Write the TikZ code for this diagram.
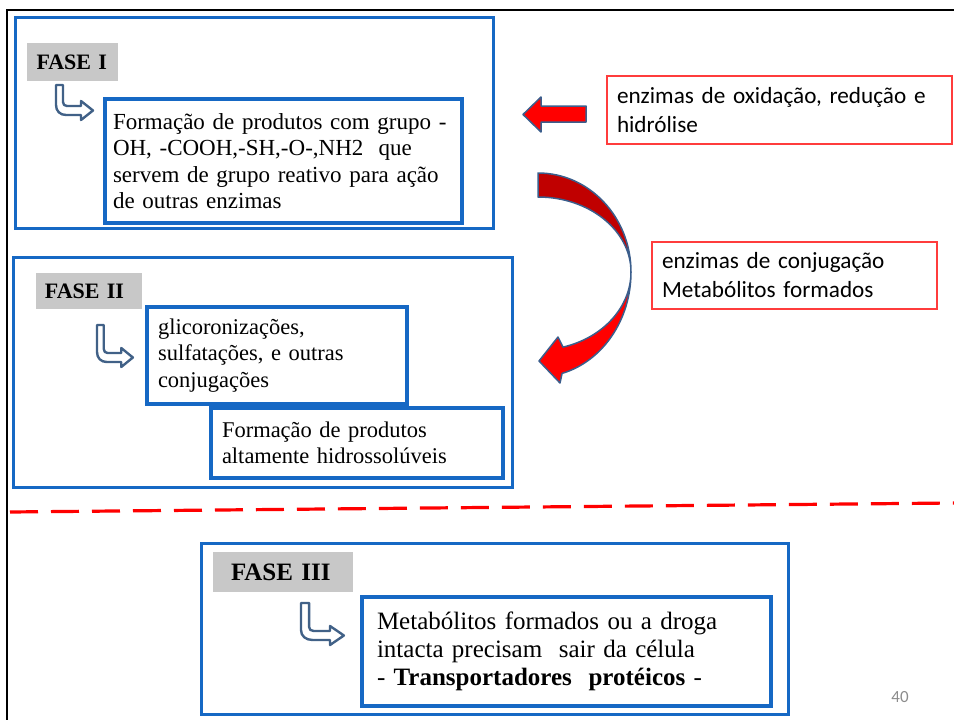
\documentclass[tikz,border=0pt]{standalone}
\usepackage{fontspec}
\setmainfont{Liberation Serif}
\newfontfamily\calib{Carlito}

\definecolor{boxblue}{RGB}{22,104,196}
\definecolor{labgray}{RGB}{200,200,200}
\definecolor{notered}{RGB}{255,60,60}
\definecolor{darkred}{RGB}{192,0,0}
\definecolor{brightred}{RGB}{255,0,0}
\definecolor{edgeblue}{RGB}{59,94,140}
\definecolor{hookblue}{RGB}{65,97,135}
\definecolor{pagegray}{RGB}{140,140,140}

\tikzset{
  pics/hookarrow/.style={code={
    \draw[hookblue, line width=2.4pt, fill=white, line join=round]
      (0,0) -- (0,{18+#1}) .. controls (0,{24+#1}) and (4,{28+#1}) .. (10,{28+#1})
      -- (25,{28+#1}) -- (25,{33+#1}) -- (37,{23.5+#1}) -- (25,{14+#1})
      -- (25,{19+#1}) -- (11,{19+#1}) .. controls (8.5,{19+#1}) and (7,{17.5+#1}) .. (7,{15+#1})
      -- (7,0) -- cycle;
  }}
}

\begin{document}
\begin{tikzpicture}[x=1pt, y=-1pt,
  every node/.style={outer sep=0pt},
  outerbox/.style={draw=boxblue, line width=3pt, anchor=north west, inner sep=0pt},
  innerbox/.style={draw=boxblue, line width=4pt, anchor=north west, align=left, inner ysep=0pt},
  phaselabel/.style={fill=labgray, anchor=north west, align=left, inner ysep=0pt},
  notebox/.style={draw=notered, line width=1.3pt, anchor=north west, align=left, inner ysep=0pt, inner xsep=10pt,
                  font=\calib\fontsize{23.2}{29}\selectfont},
  blockarrow/.style={draw=edgeblue, line width=1.5pt, line join=round},
  dashline/.style={draw=brightred, line width=3.2pt, dash pattern=on 28pt off 13pt}
]
\useasboundingbox (0,0) rectangle (954,720);

% slide frame
\coordinate (frameBL) at (7,720);
\coordinate (frameTL) at (7,10);
\coordinate (frameTR) at (954,10);
\draw[line width=2.5pt] (frameBL) -- (frameTL) -- (frameTR);

% ---------- Phase I ----------
\node[outerbox, minimum width=478pt, minimum height=211pt] (f1box) at (15,17) {};
\node[phaselabel, inner xsep=9.5pt, text width=72pt, minimum height=38pt,
      font=\bfseries\fontsize{22}{26}\selectfont] (f1lab) at (27,43) {\mbox{FASE I}};
\pic at (56,85) {hookarrow=2};
\node[innerbox, inner xsep=8pt, text width=341pt, minimum height=124pt,
      font=\fontsize{23}{26.5}\selectfont] (f1txt) at (105,99)
  {Formação de produtos com grupo -\\OH, -COOH,-SH,-O-,NH2\ \ que\\servem de grupo reativo para ação\\de outras enzimas};

% ---------- Phase II ----------
\node[outerbox, minimum width=499pt, minimum height=230pt] (f2box) at (13,257) {};
\node[phaselabel, inner xsep=9pt, text width=88pt, minimum height=36pt,
      font=\bfseries\fontsize{22}{26}\selectfont] (f2lab) at (36,273) {\mbox{FASE II}};
\pic[xscale=0.97] at (97,325) {hookarrow=9};
\node[innerbox, inner xsep=11pt, text width=238pt, minimum height=97pt,
      font=\fontsize{22.5}{26.5}\selectfont] (f2conj) at (147,307)
  {glicoronizações,\\sulfatações, e outras\\conjugações};
\node[innerbox, inner xsep=11pt, text width=270pt, minimum height=70pt,
      font=\fontsize{22.5}{26.5}\selectfont] (f2prod) at (211,408)
  {Formação de produtos\\altamente hidrossolúveis};

% separator
\coordinate (dashL) at (10,512);
\coordinate (dashR) at (954,503);
\draw[dashline] (dashL) -- (dashR);

% ---------- Phase III ----------
\node[outerbox, minimum width=587pt, minimum height=171pt] (f3box) at (201,543) {};
\node[phaselabel, inner xsep=18pt, text width=104pt, minimum height=40pt,
      font=\bfseries\fontsize{25}{29}\selectfont] (f3lab) at (213,552) {\mbox{FASE III}};
\pic[xscale=1.16] at (301,603) {hookarrow=9};
\node[innerbox, inner xsep=15pt, text width=379pt, minimum height=109pt,
      font=\fontsize{25}{28}\selectfont] (f3txt) at (362,597)
  {Metabólitos formados ou a droga\\intacta precisam\ \ sair da célula\\- \textbf{Transportadores\ \ protéicos} -};

% ---------- enzyme notes ----------
\node[notebox, text width=325pt, minimum height=68pt] (noteA) at (607,76)
  {enzimas de oxidação, redução e\\hidrólise};
\node[notebox, text width=265pt, minimum height=67pt] (noteB) at (652,242)
  {enzimas de conjugação\\Metabólitos formados};

% straight block arrow pointing to phase I
\draw[blockarrow, fill=brightred]
  (586,106) -- (541,106) -- (541,97) -- (523,114.5) -- (541,132) -- (541,122) -- (586,122) -- cycle;

% curved block arrow from phase I down to phase II
\draw[blockarrow, fill=darkred]
  (538,173) .. controls (589.4,173) and (631,217.3) .. (631,272)
  .. controls (631,230.6) and (589.4,197) .. (538,197) -- cycle;
\draw[blockarrow, fill=brightred]
  (631,272) .. controls (631,319.7) and (602.9,361.1) .. (562.1,373.4)
  -- (560,383) -- (539,361) -- (558,337) -- (563,347.1)
  .. controls (603.2,337.7) and (631,307) .. (631,272) -- cycle;

% page number
\node[font=\calib\fontsize{17}{20}\selectfont, text=pagegray] (pageno) at (900,697) {40};
\end{tikzpicture}
\end{document}
